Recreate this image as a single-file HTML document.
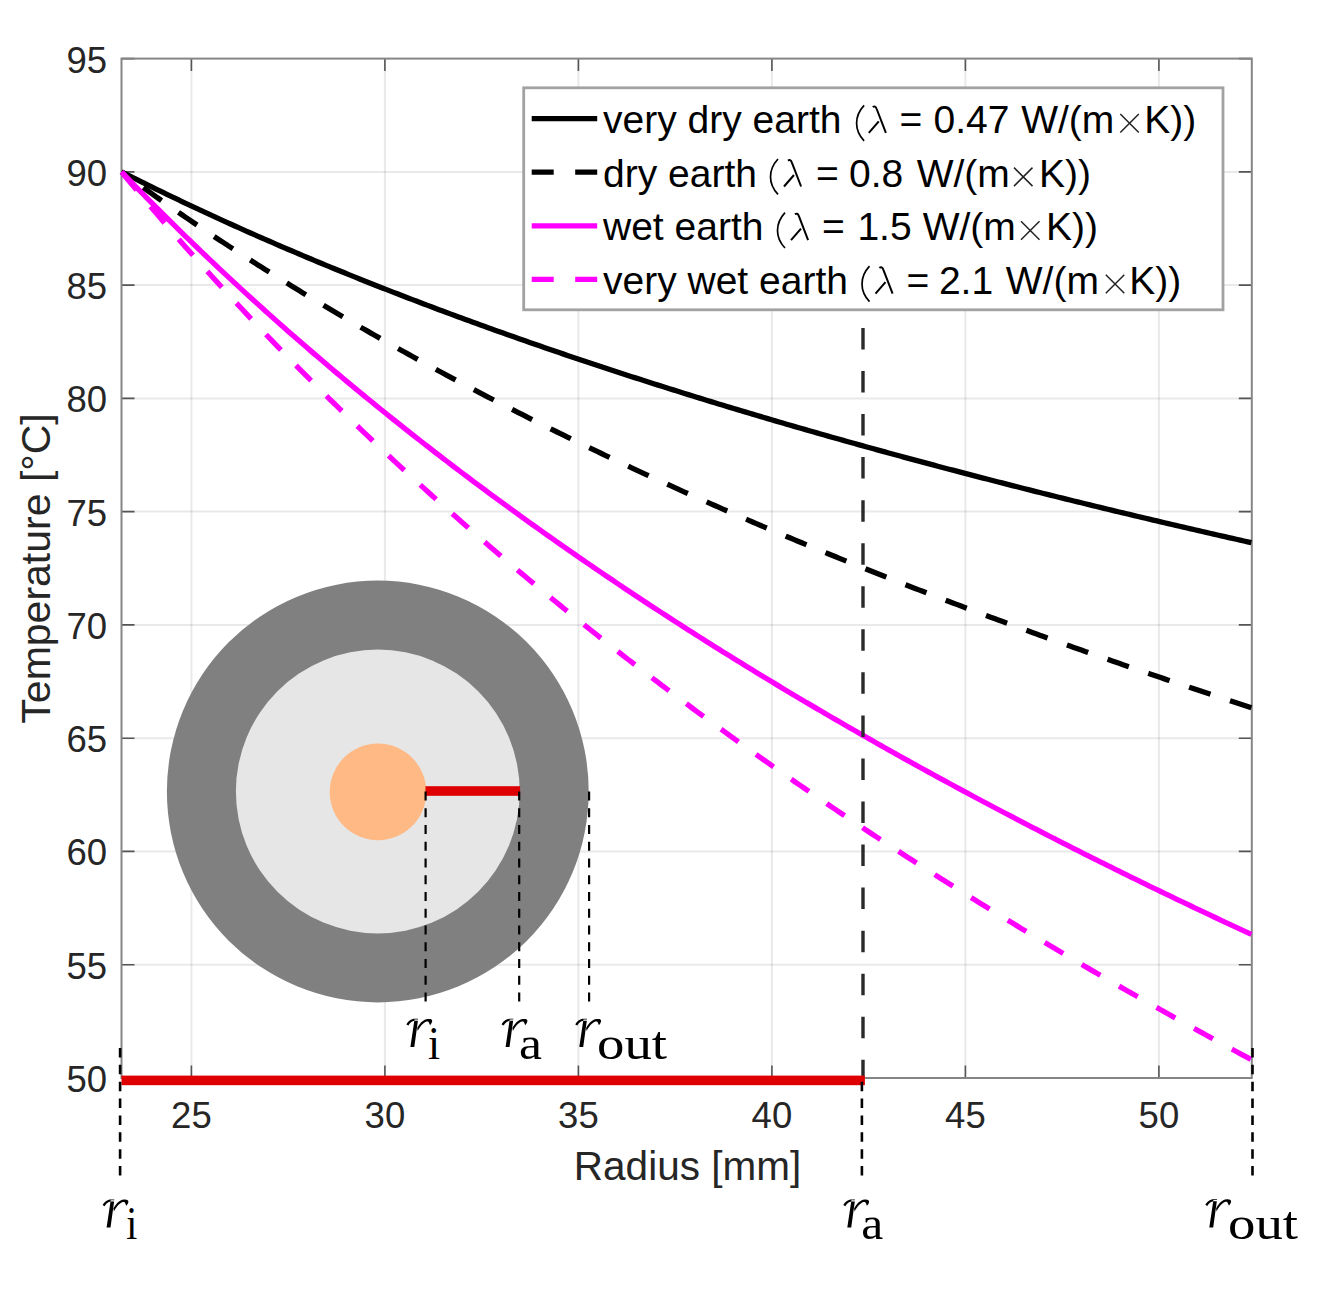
<!DOCTYPE html><html><head><meta charset="utf-8"><style>html,body{margin:0;padding:0;background:#fff}svg{display:block}</style></head><body>
<svg width="1339" height="1289" viewBox="0 0 1339 1289" font-family="Liberation Sans, sans-serif">
<rect width="1339" height="1289" fill="#fff"/>
<path d="M191.4 58.6V1078.0M384.9 58.6V1078.0M578.4 58.6V1078.0M771.9 58.6V1078.0M965.4 58.6V1078.0M1158.9 58.6V1078.0" stroke="#262626" stroke-opacity="0.1" stroke-width="2" fill="none"/>
<path d="M121.5 171.9H1251.8M121.5 285.1H1251.8M121.5 398.4H1251.8M121.5 511.6H1251.8M121.5 624.9H1251.8M121.5 738.2H1251.8M121.5 851.4H1251.8M121.5 964.7H1251.8" stroke="#262626" stroke-opacity="0.1" stroke-width="2" fill="none"/>
<circle cx="377.8" cy="791.5" r="210.9" fill="#808080"/>
<circle cx="377.8" cy="791.5" r="141.9" fill="#e6e6e6"/>
<circle cx="378" cy="791.9" r="48.3" fill="#ffb985"/>
<path d="M121.5 58.6h13M1251.8 58.6h-13M121.5 171.9h13M1251.8 171.9h-13M121.5 285.1h13M1251.8 285.1h-13M121.5 398.4h13M1251.8 398.4h-13M121.5 511.6h13M1251.8 511.6h-13M121.5 624.9h13M1251.8 624.9h-13M121.5 738.2h13M1251.8 738.2h-13M121.5 851.4h13M1251.8 851.4h-13M121.5 964.7h13M1251.8 964.7h-13M121.5 1077.9h13M1251.8 1077.9h-13M191.4 1078.0v-12.5M191.4 58.6v12.5M384.9 1078.0v-12.5M384.9 58.6v12.5M578.4 1078.0v-12.5M578.4 58.6v12.5M771.9 1078.0v-12.5M771.9 58.6v12.5M965.4 1078.0v-12.5M965.4 58.6v12.5M1158.9 1078.0v-12.5M1158.9 58.6v12.5" stroke="#555" stroke-width="1.6" fill="none"/>
<rect x="121.5" y="58.6" width="1130.3" height="1019.4" fill="none" stroke="#858585" stroke-width="2"/>
<path d="M121.51 171.86 125.29 173.77 129.07 175.68 132.84 177.57 136.62 179.46 140.40 181.34 144.18 183.21 147.96 185.08 151.74 186.93 155.52 188.78 159.30 190.63 163.08 192.46 166.85 194.29 170.63 196.11 174.41 197.92 178.19 199.73 181.97 201.53 185.75 203.32 189.53 205.10 193.31 206.88 197.09 208.65 200.86 210.41 204.64 212.17 208.42 213.92 212.20 215.66 215.98 217.40 219.76 219.13 223.54 220.85 227.32 222.57 231.10 224.28 234.87 225.99 238.65 227.68 242.43 229.37 246.21 231.06 249.99 232.74 253.77 234.41 257.55 236.08 261.33 237.74 265.11 239.39 268.88 241.04 272.66 242.69 276.44 244.32 280.22 245.95 284.00 247.58 287.78 249.20 291.56 250.81 295.34 252.42 299.12 254.02 302.89 255.62 306.67 257.21 310.45 258.79 314.23 260.37 318.01 261.95 321.79 263.52 325.57 265.08 329.35 266.64 333.13 268.19 336.90 269.74 340.68 271.28 344.46 272.82 348.24 274.35 352.02 275.88 355.80 277.40 359.58 278.92 363.36 280.43 367.14 281.94 370.91 283.44 374.69 284.93 378.47 286.43 382.25 287.91 386.03 289.40 389.81 290.87 393.59 292.35 397.37 293.81 401.14 295.28 404.92 296.74 408.70 298.19 412.48 299.64 416.26 301.08 420.04 302.52 423.82 303.96 427.60 305.39 431.38 306.82 435.15 308.24 438.93 309.66 442.71 311.07 446.49 312.48 450.27 313.88 454.05 315.28 457.83 316.68 461.61 318.07 465.39 319.46 469.16 320.84 472.94 322.22 476.72 323.59 480.50 324.96 484.28 326.33 488.06 327.69 491.84 329.05 495.62 330.40 499.40 331.76 503.17 333.10 506.95 334.44 510.73 335.78 514.51 337.12 518.29 338.45 522.07 339.77 525.85 341.10 529.63 342.42 533.41 343.73 537.18 345.04 540.96 346.35 544.74 347.65 548.52 348.95 552.30 350.25 556.08 351.54 559.86 352.83 563.64 354.12 567.42 355.40 571.19 356.68 574.97 357.95 578.75 359.22 582.53 360.49 586.31 361.75 590.09 363.01 593.87 364.27 597.65 365.53 601.43 366.78 605.20 368.02 608.98 369.27 612.76 370.50 616.54 371.74 620.32 372.97 624.10 374.20 627.88 375.43 631.66 376.65 635.44 377.87 639.21 379.09 642.99 380.30 646.77 381.51 650.55 382.72 654.33 383.93 658.11 385.13 661.89 386.32 665.67 387.52 669.45 388.71 673.22 389.90 677.00 391.08 680.78 392.26 684.56 393.44 688.34 394.62 692.12 395.79 695.90 396.96 699.68 398.13 703.46 399.29 707.23 400.45 711.01 401.61 714.79 402.77 718.57 403.92 722.35 405.07 726.13 406.21 729.91 407.36 733.69 408.50 737.47 409.63 741.24 410.77 745.02 411.90 748.80 413.03 752.58 414.16 756.36 415.28 760.14 416.40 763.92 417.52 767.70 418.63 771.48 419.75 775.25 420.86 779.03 421.96 782.81 423.07 786.59 424.17 790.37 425.27 794.15 426.37 797.93 427.46 801.71 428.55 805.49 429.64 809.26 430.73 813.04 431.81 816.82 432.89 820.60 433.97 824.38 435.04 828.16 436.12 831.94 437.19 835.72 438.26 839.50 439.32 843.27 440.38 847.05 441.45 850.83 442.50 854.61 443.56 858.39 444.61 862.17 445.66 865.95 446.71 869.73 447.76 873.50 448.80 877.28 449.84 881.06 450.88 884.84 451.92 888.62 452.95 892.40 453.98 896.18 455.01 899.96 456.04 903.74 457.07 907.51 458.09 911.29 459.11 915.07 460.13 918.85 461.14 922.63 462.16 926.41 463.17 930.19 464.18 933.97 465.18 937.75 466.19 941.52 467.19 945.30 468.19 949.08 469.19 952.86 470.18 956.64 471.18 960.42 472.17 964.20 473.16 967.98 474.14 971.76 475.13 975.53 476.11 979.31 477.09 983.09 478.07 986.87 479.05 990.65 480.02 994.43 481.00 998.21 481.97 1001.99 482.93 1005.77 483.90 1009.54 484.86 1013.32 485.83 1017.10 486.79 1020.88 487.74 1024.66 488.70 1028.44 489.65 1032.22 490.61 1036.00 491.56 1039.78 492.50 1043.55 493.45 1047.33 494.39 1051.11 495.34 1054.89 496.28 1058.67 497.21 1062.45 498.15 1066.23 499.09 1070.01 500.02 1073.79 500.95 1077.56 501.88 1081.34 502.80 1085.12 503.73 1088.90 504.65 1092.68 505.57 1096.46 506.49 1100.24 507.41 1104.02 508.33 1107.80 509.24 1111.57 510.15 1115.35 511.06 1119.13 511.97 1122.91 512.88 1126.69 513.78 1130.47 514.68 1134.25 515.58 1138.03 516.48 1141.81 517.38 1145.58 518.28 1149.36 519.17 1153.14 520.06 1156.92 520.95 1160.70 521.84 1164.48 522.73 1168.26 523.61 1172.04 524.50 1175.82 525.38 1179.59 526.26 1183.37 527.14 1187.15 528.02 1190.93 528.89 1194.71 529.76 1198.49 530.64 1202.27 531.51 1206.05 532.37 1209.83 533.24 1213.60 534.11 1217.38 534.97 1221.16 535.83 1224.94 536.69 1228.72 537.55 1232.50 538.41 1236.28 539.26 1240.06 540.12 1243.84 540.97 1247.61 541.82 1251.39 542.67" stroke="#000" stroke-width="5.3" fill="none" stroke-linejoin="round"/>
<path d="M121.51 171.86 125.29 174.62 129.07 177.37 132.84 180.11 136.62 182.84 140.40 185.56 144.18 188.26 147.96 190.96 151.74 193.64 155.52 196.32 159.30 198.98 163.08 201.63 166.85 204.27 170.63 206.90 174.41 209.52 178.19 212.13 181.97 214.73 185.75 217.32 189.53 219.89 193.31 222.46 197.09 225.02 200.86 227.57 204.64 230.11 208.42 232.64 212.20 235.16 215.98 237.67 219.76 240.17 223.54 242.66 227.32 245.14 231.10 247.61 234.87 250.07 238.65 252.52 242.43 254.97 246.21 257.40 249.99 259.83 253.77 262.25 257.55 264.66 261.33 267.06 265.11 269.45 268.88 271.83 272.66 274.20 276.44 276.57 280.22 278.92 284.00 281.27 287.78 283.61 291.56 285.94 295.34 288.27 299.12 290.58 302.89 292.89 306.67 295.19 310.45 297.48 314.23 299.76 318.01 302.04 321.79 304.31 325.57 306.56 329.35 308.82 333.13 311.06 336.90 313.30 340.68 315.53 344.46 317.75 348.24 319.96 352.02 322.17 355.80 324.37 359.58 326.56 363.36 328.74 367.14 330.92 370.91 333.09 374.69 335.25 378.47 337.41 382.25 339.56 386.03 341.70 389.81 343.83 393.59 345.96 397.37 348.08 401.14 350.20 404.92 352.30 408.70 354.41 412.48 356.50 416.26 358.59 420.04 360.67 423.82 362.74 427.60 364.81 431.38 366.87 435.15 368.93 438.93 370.97 442.71 373.02 446.49 375.05 450.27 377.08 454.05 379.10 457.83 381.12 461.61 383.13 465.39 385.14 469.16 387.13 472.94 389.13 476.72 391.11 480.50 393.09 484.28 395.07 488.06 397.04 491.84 399.00 495.62 400.96 499.40 402.91 503.17 404.85 506.95 406.79 510.73 408.73 514.51 410.66 518.29 412.58 522.07 414.49 525.85 416.41 529.63 418.31 533.41 420.21 537.18 422.11 540.96 424.00 544.74 425.88 548.52 427.76 552.30 429.63 556.08 431.50 559.86 433.36 563.64 435.22 567.42 437.07 571.19 438.92 574.97 440.76 578.75 442.60 582.53 444.43 586.31 446.26 590.09 448.08 593.87 449.89 597.65 451.71 601.43 453.51 605.20 455.31 608.98 457.11 612.76 458.90 616.54 460.69 620.32 462.47 624.10 464.25 627.88 466.02 631.66 467.79 635.44 469.55 639.21 471.31 642.99 473.06 646.77 474.81 650.55 476.55 654.33 478.29 658.11 480.03 661.89 481.76 665.67 483.48 669.45 485.21 673.22 486.92 677.00 488.64 680.78 490.34 684.56 492.05 688.34 493.75 692.12 495.44 695.90 497.13 699.68 498.82 703.46 500.50 707.23 502.18 711.01 503.85 714.79 505.52 718.57 507.18 722.35 508.84 726.13 510.50 729.91 512.15 733.69 513.80 737.47 515.44 741.24 517.08 745.02 518.72 748.80 520.35 752.58 521.98 756.36 523.60 760.14 525.22 763.92 526.84 767.70 528.45 771.48 530.06 775.25 531.66 779.03 533.26 782.81 534.85 786.59 536.45 790.37 538.04 794.15 539.62 797.93 541.20 801.71 542.78 805.49 544.35 809.26 545.92 813.04 547.49 816.82 549.05 820.60 550.61 824.38 552.16 828.16 553.71 831.94 555.26 835.72 556.80 839.50 558.34 843.27 559.88 847.05 561.41 850.83 562.94 854.61 564.46 858.39 565.99 862.17 567.51 865.95 569.02 869.73 570.53 873.50 572.04 877.28 573.54 881.06 575.05 884.84 576.54 888.62 578.04 892.40 579.53 896.18 581.02 899.96 582.50 903.74 583.98 907.51 585.46 911.29 586.93 915.07 588.41 918.85 589.87 922.63 591.34 926.41 592.80 930.19 594.26 933.97 595.71 937.75 597.16 941.52 598.61 945.30 600.06 949.08 601.50 952.86 602.94 956.64 604.37 960.42 605.81 964.20 607.23 967.98 608.66 971.76 610.08 975.53 611.50 979.31 612.92 983.09 614.34 986.87 615.75 990.65 617.15 994.43 618.56 998.21 619.96 1001.99 621.36 1005.77 622.76 1009.54 624.15 1013.32 625.54 1017.10 626.93 1020.88 628.31 1024.66 629.69 1028.44 631.07 1032.22 632.45 1036.00 633.82 1039.78 635.19 1043.55 636.56 1047.33 637.92 1051.11 639.28 1054.89 640.64 1058.67 642.00 1062.45 643.35 1066.23 644.70 1070.01 646.05 1073.79 647.39 1077.56 648.73 1081.34 650.07 1085.12 651.41 1088.90 652.74 1092.68 654.07 1096.46 655.40 1100.24 656.73 1104.02 658.05 1107.80 659.37 1111.57 660.69 1115.35 662.00 1119.13 663.32 1122.91 664.63 1126.69 665.93 1130.47 667.24 1134.25 668.54 1138.03 669.84 1141.81 671.14 1145.58 672.43 1149.36 673.72 1153.14 675.01 1156.92 676.30 1160.70 677.58 1164.48 678.87 1168.26 680.14 1172.04 681.42 1175.82 682.70 1179.59 683.97 1183.37 685.24 1187.15 686.50 1190.93 687.77 1194.71 689.03 1198.49 690.29 1202.27 691.55 1206.05 692.80 1209.83 694.05 1213.60 695.30 1217.38 696.55 1221.16 697.80 1224.94 699.04 1228.72 700.28 1232.50 701.52 1236.28 702.76 1240.06 703.99 1243.84 705.22 1247.61 706.45 1251.39 707.68" stroke="#000" stroke-width="5.3" fill="none" stroke-dasharray="22.5 20.585" stroke-dashoffset="16.3"/>
<path d="M121.51 171.86 125.29 175.79 129.07 179.71 132.84 183.60 136.62 187.49 140.40 191.35 144.18 195.20 147.96 199.04 151.74 202.86 155.52 206.66 159.30 210.45 163.08 214.22 166.85 217.98 170.63 221.72 174.41 225.45 178.19 229.16 181.97 232.86 185.75 236.54 189.53 240.21 193.31 243.87 197.09 247.51 200.86 251.13 204.64 254.75 208.42 258.35 212.20 261.93 215.98 265.50 219.76 269.06 223.54 272.60 227.32 276.13 231.10 279.65 234.87 283.16 238.65 286.65 242.43 290.12 246.21 293.59 249.99 297.04 253.77 300.48 257.55 303.91 261.33 307.32 265.11 310.73 268.88 314.12 272.66 317.49 276.44 320.86 280.22 324.21 284.00 327.56 287.78 330.89 291.56 334.20 295.34 337.51 299.12 340.80 302.89 344.09 306.67 347.36 310.45 350.62 314.23 353.87 318.01 357.10 321.79 360.33 325.57 363.55 329.35 366.75 333.13 369.94 336.90 373.13 340.68 376.30 344.46 379.46 348.24 382.61 352.02 385.75 355.80 388.88 359.58 392.00 363.36 395.11 367.14 398.20 370.91 401.29 374.69 404.37 378.47 407.44 382.25 410.50 386.03 413.54 389.81 416.58 393.59 419.61 397.37 422.63 401.14 425.64 404.92 428.63 408.70 431.62 412.48 434.60 416.26 437.57 420.04 440.53 423.82 443.49 427.60 446.43 431.38 449.36 435.15 452.29 438.93 455.20 442.71 458.11 446.49 461.00 450.27 463.89 454.05 466.77 457.83 469.64 461.61 472.50 465.39 475.35 469.16 478.20 472.94 481.03 476.72 483.86 480.50 486.68 484.28 489.49 488.06 492.29 491.84 495.08 495.62 497.87 499.40 500.64 503.17 503.41 506.95 506.17 510.73 508.92 514.51 511.67 518.29 514.40 522.07 517.13 525.85 519.85 529.63 522.56 533.41 525.27 537.18 527.96 540.96 530.65 544.74 533.33 548.52 536.01 552.30 538.67 556.08 541.33 559.86 543.98 563.64 546.63 567.42 549.26 571.19 551.89 574.97 554.51 578.75 557.12 582.53 559.73 586.31 562.33 590.09 564.92 593.87 567.51 597.65 570.08 601.43 572.65 605.20 575.22 608.98 577.77 612.76 580.32 616.54 582.87 620.32 585.40 624.10 587.93 627.88 590.45 631.66 592.97 635.44 595.48 639.21 597.98 642.99 600.47 646.77 602.96 650.55 605.44 654.33 607.92 658.11 610.39 661.89 612.85 665.67 615.31 669.45 617.76 673.22 620.20 677.00 622.63 680.78 625.07 684.56 627.49 688.34 629.91 692.12 632.32 695.90 634.72 699.68 637.12 703.46 639.52 707.23 641.90 711.01 644.28 714.79 646.66 718.57 649.03 722.35 651.39 726.13 653.75 729.91 656.10 733.69 658.44 737.47 660.78 741.24 663.12 745.02 665.44 748.80 667.76 752.58 670.08 756.36 672.39 760.14 674.70 763.92 676.99 767.70 679.29 771.48 681.58 775.25 683.86 779.03 686.13 782.81 688.41 786.59 690.67 790.37 692.93 794.15 695.19 797.93 697.44 801.71 699.68 805.49 701.92 809.26 704.15 813.04 706.38 816.82 708.60 820.60 710.82 824.38 713.03 828.16 715.24 831.94 717.44 835.72 719.64 839.50 721.83 843.27 724.01 847.05 726.19 850.83 728.37 854.61 730.54 858.39 732.71 862.17 734.87 865.95 737.02 869.73 739.17 873.50 741.32 877.28 743.46 881.06 745.60 884.84 747.73 888.62 749.86 892.40 751.98 896.18 754.09 899.96 756.21 903.74 758.31 907.51 760.42 911.29 762.51 915.07 764.61 918.85 766.70 922.63 768.78 926.41 770.86 930.19 772.93 933.97 775.00 937.75 777.07 941.52 779.13 945.30 781.19 949.08 783.24 952.86 785.29 956.64 787.33 960.42 789.37 964.20 791.40 967.98 793.43 971.76 795.46 975.53 797.48 979.31 799.50 983.09 801.51 986.87 803.52 990.65 805.52 994.43 807.52 998.21 809.51 1001.99 811.50 1005.77 813.49 1009.54 815.47 1013.32 817.45 1017.10 819.43 1020.88 821.40 1024.66 823.36 1028.44 825.32 1032.22 827.28 1036.00 829.23 1039.78 831.18 1043.55 833.13 1047.33 835.07 1051.11 837.01 1054.89 838.94 1058.67 840.87 1062.45 842.79 1066.23 844.72 1070.01 846.63 1073.79 848.55 1077.56 850.46 1081.34 852.36 1085.12 854.26 1088.90 856.16 1092.68 858.06 1096.46 859.95 1100.24 861.83 1104.02 863.72 1107.80 865.59 1111.57 867.47 1115.35 869.34 1119.13 871.21 1122.91 873.07 1126.69 874.93 1130.47 876.79 1134.25 878.64 1138.03 880.49 1141.81 882.34 1145.58 884.18 1149.36 886.02 1153.14 887.85 1156.92 889.68 1160.70 891.51 1164.48 893.33 1168.26 895.15 1172.04 896.97 1175.82 898.78 1179.59 900.59 1183.37 902.40 1187.15 904.20 1190.93 906.00 1194.71 907.80 1198.49 909.59 1202.27 911.38 1206.05 913.17 1209.83 914.95 1213.60 916.73 1217.38 918.50 1221.16 920.28 1224.94 922.04 1228.72 923.81 1232.50 925.57 1236.28 927.33 1240.06 929.09 1243.84 930.84 1247.61 932.59 1251.39 934.33" stroke="#f0f" stroke-width="5.3" fill="none" stroke-linejoin="round"/>
<path d="M121.51 171.86 125.29 176.44 129.07 181.00 132.84 185.53 136.62 190.06 140.40 194.56 144.18 199.04 147.96 203.50 151.74 207.95 155.52 212.38 159.30 216.79 163.08 221.18 166.85 225.56 170.63 229.92 174.41 234.26 178.19 238.58 181.97 242.89 185.75 247.17 189.53 251.45 193.31 255.70 197.09 259.94 200.86 264.16 204.64 268.37 208.42 272.56 212.20 276.73 215.98 280.89 219.76 285.04 223.54 289.16 227.32 293.27 231.10 297.37 234.87 301.45 238.65 305.51 242.43 309.56 246.21 313.60 249.99 317.62 253.77 321.62 257.55 325.61 261.33 329.59 265.11 333.55 268.88 337.50 272.66 341.43 276.44 345.35 280.22 349.26 284.00 353.15 287.78 357.02 291.56 360.89 295.34 364.74 299.12 368.57 302.89 372.40 306.67 376.20 310.45 380.00 314.23 383.78 318.01 387.55 321.79 391.31 325.57 395.05 329.35 398.78 333.13 402.50 336.90 406.21 340.68 409.90 344.46 413.58 348.24 417.25 352.02 420.91 355.80 424.55 359.58 428.18 363.36 431.80 367.14 435.41 370.91 439.00 374.69 442.59 378.47 446.16 382.25 449.72 386.03 453.27 389.81 456.80 393.59 460.33 397.37 463.84 401.14 467.35 404.92 470.84 408.70 474.32 412.48 477.79 416.26 481.25 420.04 484.70 423.82 488.13 427.60 491.56 431.38 494.97 435.15 498.38 438.93 501.77 442.71 505.16 446.49 508.53 450.27 511.89 454.05 515.24 457.83 518.59 461.61 521.92 465.39 525.24 469.16 528.55 472.94 531.85 476.72 535.14 480.50 538.42 484.28 541.70 488.06 544.96 491.84 548.21 495.62 551.45 499.40 554.68 503.17 557.91 506.95 561.12 510.73 564.33 514.51 567.52 518.29 570.71 522.07 573.88 525.85 577.05 529.63 580.21 533.41 583.36 537.18 586.50 540.96 589.63 544.74 592.75 548.52 595.86 552.30 598.97 556.08 602.06 559.86 605.15 563.64 608.22 567.42 611.29 571.19 614.35 574.97 617.40 578.75 620.45 582.53 623.48 586.31 626.51 590.09 629.53 593.87 632.54 597.65 635.54 601.43 638.53 605.20 641.52 608.98 644.49 612.76 647.46 616.54 650.42 620.32 653.37 624.10 656.32 627.88 659.26 631.66 662.18 635.44 665.10 639.21 668.02 642.99 670.92 646.77 673.82 650.55 676.71 654.33 679.59 658.11 682.47 661.89 685.33 665.67 688.19 669.45 691.05 673.22 693.89 677.00 696.73 680.78 699.56 684.56 702.38 688.34 705.19 692.12 708.00 695.90 710.80 699.68 713.60 703.46 716.38 707.23 719.16 711.01 721.93 714.79 724.70 718.57 727.46 722.35 730.21 726.13 732.95 729.91 735.69 733.69 738.42 737.47 741.14 741.24 743.86 745.02 746.57 748.80 749.28 752.58 751.97 756.36 754.66 760.14 757.35 763.92 760.02 767.70 762.69 771.48 765.36 775.25 768.01 779.03 770.66 782.81 773.31 786.59 775.95 790.37 778.58 794.15 781.20 797.93 783.82 801.71 786.44 805.49 789.04 809.26 791.64 813.04 794.24 816.82 796.82 820.60 799.41 824.38 801.98 828.16 804.55 831.94 807.11 835.72 809.67 839.50 812.22 843.27 814.77 847.05 817.31 850.83 819.84 854.61 822.37 858.39 824.89 862.17 827.41 865.95 829.92 869.73 832.42 873.50 834.92 877.28 837.41 881.06 839.90 884.84 842.38 888.62 844.86 892.40 847.33 896.18 849.79 899.96 852.25 903.74 854.71 907.51 857.16 911.29 859.60 915.07 862.04 918.85 864.47 922.63 866.89 926.41 869.32 930.19 871.73 933.97 874.14 937.75 876.55 941.52 878.95 945.30 881.34 949.08 883.73 952.86 886.11 956.64 888.49 960.42 890.87 964.20 893.24 967.98 895.60 971.76 897.96 975.53 900.31 979.31 902.66 983.09 905.00 986.87 907.34 990.65 909.67 994.43 912.00 998.21 914.32 1001.99 916.64 1005.77 918.95 1009.54 921.26 1013.32 923.57 1017.10 925.86 1020.88 928.16 1024.66 930.45 1028.44 932.73 1032.22 935.01 1036.00 937.28 1039.78 939.55 1043.55 941.82 1047.33 944.08 1051.11 946.33 1054.89 948.59 1058.67 950.83 1062.45 953.07 1066.23 955.31 1070.01 957.54 1073.79 959.77 1077.56 962.00 1081.34 964.21 1085.12 966.43 1088.90 968.64 1092.68 970.84 1096.46 973.04 1100.24 975.24 1104.02 977.43 1107.80 979.62 1111.57 981.80 1115.35 983.98 1119.13 986.16 1122.91 988.33 1126.69 990.49 1130.47 992.66 1134.25 994.81 1138.03 996.97 1141.81 999.12 1145.58 1001.26 1149.36 1003.40 1153.14 1005.54 1156.92 1007.67 1160.70 1009.80 1164.48 1011.92 1168.26 1014.04 1172.04 1016.16 1175.82 1018.27 1179.59 1020.37 1183.37 1022.48 1187.15 1024.58 1190.93 1026.67 1194.71 1028.76 1198.49 1030.85 1202.27 1032.93 1206.05 1035.01 1209.83 1037.09 1213.60 1039.16 1217.38 1041.23 1221.16 1043.29 1224.94 1045.35 1228.72 1047.41 1232.50 1049.46 1236.28 1051.51 1240.06 1053.55 1243.84 1055.59 1247.61 1057.63 1251.39 1059.66" stroke="#f0f" stroke-width="5.3" fill="none" stroke-dasharray="21.5 21.585" stroke-dashoffset="40.9"/>
<line x1="863" y1="1076.0" x2="863" y2="322" stroke="#2a2a2a" stroke-width="3.4" stroke-dasharray="21.5 21.55" stroke-dashoffset="5.3"/>
<rect x="121.5" y="1075.6" width="743.4" height="9.6" fill="#de0000"/>
<rect x="425.5" y="786.2" width="94.6" height="9.6" fill="#de0000"/>
<line x1="120.1" y1="1048" x2="120.1" y2="1176" stroke="#000" stroke-width="2.6" stroke-dasharray="9.5 7.36"/>
<line x1="861.9" y1="1081.72" x2="861.9" y2="1176" stroke="#000" stroke-width="2.6" stroke-dasharray="9.5 7.36"/>
<line x1="1252.5" y1="1048" x2="1252.5" y2="1176" stroke="#000" stroke-width="2.6" stroke-dasharray="9.5 7.36"/>
<line x1="425.6" y1="791.6" x2="425.6" y2="1002" stroke="#000" stroke-width="2.2" stroke-dasharray="9 7.74"/>
<line x1="519.2" y1="791.6" x2="519.2" y2="1002" stroke="#000" stroke-width="2.2" stroke-dasharray="9 7.74"/>
<line x1="589.1" y1="791.6" x2="589.1" y2="1002" stroke="#000" stroke-width="2.2" stroke-dasharray="9 7.74"/>
<g font-size="36.5" fill="#262626"><text x="107" y="72.6" text-anchor="end">95</text><text x="107" y="185.9" text-anchor="end">90</text><text x="107" y="299.1" text-anchor="end">85</text><text x="107" y="412.4" text-anchor="end">80</text><text x="107" y="525.6" text-anchor="end">75</text><text x="107" y="638.9" text-anchor="end">70</text><text x="107" y="752.2" text-anchor="end">65</text><text x="107" y="865.4" text-anchor="end">60</text><text x="107" y="978.7" text-anchor="end">55</text><text x="107" y="1091.9" text-anchor="end">50</text><text x="191.4" y="1128" text-anchor="middle">25</text><text x="384.9" y="1128" text-anchor="middle">30</text><text x="578.4" y="1128" text-anchor="middle">35</text><text x="771.9" y="1128" text-anchor="middle">40</text><text x="965.4" y="1128" text-anchor="middle">45</text><text x="1158.9" y="1128" text-anchor="middle">50</text></g>
<text x="687.5" y="1179.7" text-anchor="middle" font-size="40.5" fill="#262626">Radius [mm]</text>
<text transform="translate(50 568.5) rotate(-90)" text-anchor="middle" font-size="41" fill="#262626">Temperature [°C]</text>
<rect x="523.7" y="87.8" width="699.3" height="222" fill="#fff" stroke="#a2a2a2" stroke-width="2.8"/>
<line x1="531.7" y1="118.6" x2="597.2" y2="118.6" stroke="#000" stroke-width="5.3"/>
<line x1="531.7" y1="172.2" x2="597.2" y2="172.2" stroke="#000" stroke-width="5.3" stroke-dasharray="22 21.5"/>
<line x1="531.7" y1="225.8" x2="597.2" y2="225.8" stroke="#f0f" stroke-width="5.3"/>
<line x1="531.7" y1="279.4" x2="597.2" y2="279.4" stroke="#f0f" stroke-width="5.3" stroke-dasharray="22 21.5"/>
<g font-size="39" fill="#000"><text x="603" y="133.2">very dry earth</text><path transform="translate(855.5 133.2)" d="M8.6 -27.8C-1.4 -17 -1.4 -3 8.6 7.6" stroke="#000" stroke-width="1.7" fill="none"/><path transform="translate(868.1 133.2)" d="M4.6 -26.2C6.2 -27.2 7.6 -27 8.6 -24.2L17.8 -0.3M0.7 -0.3L10.7 -11.8" stroke="#000" stroke-width="2" fill="none"/><text x="899.5" y="133.2">=</text><text x="933.6" y="133.2">0.47</text><text x="1021.2" y="133.2">W/(m</text><path d="M1120.3 114.0l18.5 18.5M1120.3 132.5l18.5 -18.5" stroke="#222" stroke-width="1.5"/><text x="1144.2" y="133.2">K))</text><text x="603" y="186.8">dry earth</text><path transform="translate(769.4 186.8)" d="M8.6 -27.8C-1.4 -17 -1.4 -3 8.6 7.6" stroke="#000" stroke-width="1.7" fill="none"/><path transform="translate(783.3 186.8)" d="M4.6 -26.2C6.2 -27.2 7.6 -27 8.6 -24.2L17.8 -0.3M0.7 -0.3L10.7 -11.8" stroke="#000" stroke-width="2" fill="none"/><text x="816.0" y="186.8">=</text><text x="849.0" y="186.8">0.8</text><text x="916.7" y="186.8">W/(m</text><path d="M1014.0 167.6l18.5 18.5M1014.0 186.1l18.5 -18.5" stroke="#222" stroke-width="1.5"/><text x="1039.0" y="186.8">K))</text><text x="603" y="240.4">wet earth</text><path transform="translate(776.4 240.4)" d="M8.6 -27.8C-1.4 -17 -1.4 -3 8.6 7.6" stroke="#000" stroke-width="1.7" fill="none"/><path transform="translate(790.3 240.4)" d="M4.6 -26.2C6.2 -27.2 7.6 -27 8.6 -24.2L17.8 -0.3M0.7 -0.3L10.7 -11.8" stroke="#000" stroke-width="2" fill="none"/><text x="821.9" y="240.4">=</text><text x="857.4" y="240.4">1.5</text><text x="922.7" y="240.4">W/(m</text><path d="M1021.0 221.2l18.5 18.5M1021.0 239.7l18.5 -18.5" stroke="#222" stroke-width="1.5"/><text x="1046.0" y="240.4">K))</text><text x="603" y="294.0">very wet earth</text><path transform="translate(860.9 294.0)" d="M8.6 -27.8C-1.4 -17 -1.4 -3 8.6 7.6" stroke="#000" stroke-width="1.7" fill="none"/><path transform="translate(874.8 294.0)" d="M4.6 -26.2C6.2 -27.2 7.6 -27 8.6 -24.2L17.8 -0.3M0.7 -0.3L10.7 -11.8" stroke="#000" stroke-width="2" fill="none"/><text x="906.5" y="294.0">=</text><text x="938.9" y="294.0">2.1</text><text x="1005.8" y="294.0">W/(m</text><path d="M1105.8 274.8l18.5 18.5M1105.8 293.3l18.5 -18.5" stroke="#222" stroke-width="1.5"/><text x="1129.3" y="294.0">K))</text></g>
<defs><path id="rg" d="M4 0L7.9 0L11.7 -27.4L8.1 -27.4ZM0 -22.6C1.6 -25.6 4.5 -28.2 8.5 -28.2L11.7 -28.2L11.6 -26.2L8.8 -26.2C6 -26.2 3.6 -24.2 2 -21.4ZM10.8 -19C13 -23.4 16.5 -27.6 21.5 -28.1L23 -28.1L23 -25.9L21.5 -25.8C18 -25.4 14.5 -22.2 11.3 -16ZM21.2 -27.6C23 -28.2 25.8 -28.1 25.8 -26.2C25.8 -24.4 24.6 -22.8 23.6 -21.8C23 -23.5 22.4 -25 21.2 -26Z"/></defs>
<g fill="#000">
<use href="#rg" transform="translate(406.4 1047.0)"/><text x="428" y="1058.5" font-family="Liberation Serif, serif" font-size="47" textLength="12" lengthAdjust="spacingAndGlyphs">i</text>
<use href="#rg" transform="translate(501.6 1047.0)"/><text x="519" y="1058.5" font-family="Liberation Serif, serif" font-size="47" textLength="23" lengthAdjust="spacingAndGlyphs">a</text>
<use href="#rg" transform="translate(575.3 1047.0)"/><text x="597" y="1058.5" font-family="Liberation Serif, serif" font-size="47" textLength="70" lengthAdjust="spacingAndGlyphs">out</text>
<use href="#rg" transform="translate(102.6 1227.6)"/><text x="126.3" y="1239.1" font-family="Liberation Serif, serif" font-size="47" textLength="11" lengthAdjust="spacingAndGlyphs">i</text>
<use href="#rg" transform="translate(843.3 1227.6)"/><text x="861.3" y="1239.1" font-family="Liberation Serif, serif" font-size="47" textLength="22" lengthAdjust="spacingAndGlyphs">a</text>
<use href="#rg" transform="translate(1205.3 1227.4)"/><text x="1228" y="1238.9" font-family="Liberation Serif, serif" font-size="47" textLength="70" lengthAdjust="spacingAndGlyphs">out</text>
</g>
</svg></body></html>
